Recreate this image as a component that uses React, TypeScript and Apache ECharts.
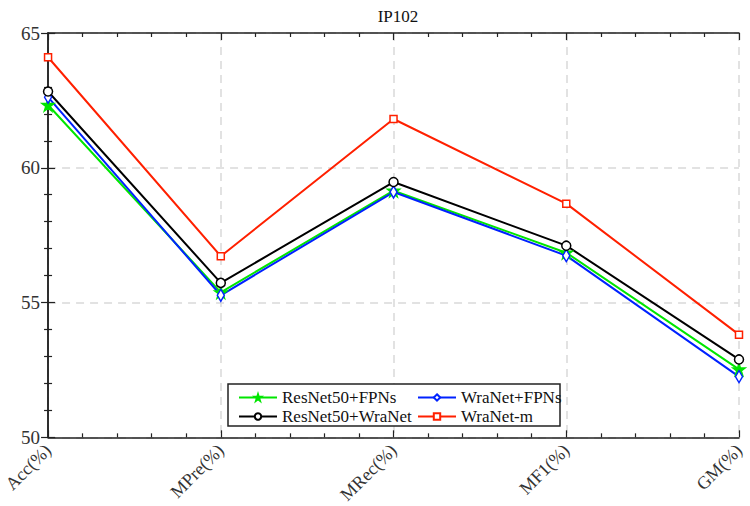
import React, { useEffect, useRef } from "react";
import * as echarts from "echarts";

const categories = ["Acc(%)", "MPre(%)", "MRec(%)", "MF1(%)", "GM(%)"];
const resnetFpns = [62.33, 55.38, 59.15, 56.85, 52.52];
const wranetFpns = [62.62, 55.27, 59.1, 56.74, 52.25];
const resnetWranet = [62.83, 55.73, 59.47, 57.11, 52.89];
const wranetM = [64.1, 56.72, 61.81, 58.67, 53.81];
const yTicks = [50, 55, 60, 65];

const FONT = "Liberation Serif";
const STAR =
  "path://M50,0 L61.8,36.2 L100,36.2 L69.1,58.8 L80.9,95.1 L50,72.7 L19.1,95.1 L30.9,58.8 L0,36.2 L38.2,36.2 Z";

const toPairs = (arr: number[]) => arr.map((v, i) => [i, v]);

export default function App() {
  const ref = useRef<HTMLDivElement>(null);
  useEffect(() => {
    if (!ref.current) return;
    const chart = echarts.init(ref.current, null, { renderer: "svg" });
    const axisCommon = {
      axisLine: { show: true, lineStyle: { color: "#222", width: 1.5 } },
      axisTick: { show: true, inside: true, length: 7, lineStyle: { color: "#222", width: 1.2 } },
      minorTick: { show: true, splitNumber: 5, length: 4, lineStyle: { color: "#222", width: 1.2 } },
    };
    const xBase = {
      type: "value",
      min: 0,
      max: categories.length - 1,
      interval: 1,
      ...axisCommon,
    };
    const yBase = {
      type: "value",
      min: yTicks[0],
      max: yTicks[yTicks.length - 1],
      interval: yTicks[1] - yTicks[0],
      ...axisCommon,
    };
    const mkSeries = (name: string, data: number[], color: string, symbol: string, size: any, fill: string) => ({
      name,
      type: "line",
      data: toPairs(data),
      symbol,
      symbolSize: size,
      showSymbol: true,
      lineStyle: { color, width: 2 },
      itemStyle: { color: fill, borderColor: color, borderWidth: 1.5 },
      emphasis: { disabled: true },
    });
    const legendBase = {
      orient: "horizontal",
      itemWidth: 38,
      itemHeight: 8,
      itemGap: 4,
      textStyle: { fontFamily: FONT, fontSize: 17, color: "#111" },
      z: 10,
    };
    chart.setOption({
      animation: false,
      backgroundColor: "#fff",
      title: {
        text: "IP102",
        left: 393,
        textAlign: "center",
        top: 3,
        textStyle: { fontFamily: FONT, fontSize: 17, fontWeight: "normal", color: "#111" },
      },
      grid: { left: 46, right: 11, top: 33, bottom: 68 },
      xAxis: [
        {
          ...xBase,
          position: "bottom",
          axisLabel: {
            rotate: 45,
            fontFamily: FONT,
            fontSize: 18,
            color: "#333",
            margin: 10,
            formatter: (v: number) => categories[v] ?? "",
          },
          splitLine: { show: true, lineStyle: { color: "#d9d9d9", width: 1.5, type: [8, 6] } },
        },
        {
          ...xBase,
          position: "top",
          axisLabel: { show: false },
          splitLine: { show: false },
        },
      ],
      yAxis: [
        {
          ...yBase,
          position: "left",
          axisLabel: { fontFamily: FONT, fontSize: 19, color: "#333", margin: 8 },
          splitLine: { show: true, lineStyle: { color: "#d9d9d9", width: 1.5, type: [8, 6] } },
        },
        {
          ...yBase,
          position: "right",
          axisLabel: { show: false },
          splitLine: { show: false },
        },
      ],
      graphic: [
        {
          type: "rect",
          shape: { x: 228, y: 384, width: 332, height: 42 },
          style: { fill: "#fff", stroke: "#222", lineWidth: 1.5 },
          z: 5,
        },
      ],
      legend: [
        { ...legendBase, left: 233, top: 384, data: ["ResNet50+FPNs"] },
        { ...legendBase, left: 412, top: 384, data: ["WraNet+FPNs"] },
        { ...legendBase, left: 233, top: 403, data: ["ResNet50+WraNet"] },
        { ...legendBase, left: 412, top: 403, data: ["WraNet-m"] },
      ],
      series: [
        mkSeries("ResNet50+FPNs", resnetFpns, "#00e600", STAR, 12, "#00e600"),
        mkSeries("WraNet+FPNs", wranetFpns, "#0022ff", "diamond", [7, 12], "#fff"),
        mkSeries("ResNet50+WraNet", resnetWranet, "#000", "circle", 9, "#fff"),
        mkSeries("WraNet-m", wranetM, "#ff2000", "rect", 7, "#fff"),
      ],
    });
    return () => chart.dispose();
  }, []);
  return <div ref={ref} style={{ width: 750, height: 506, position: "absolute", left: 0, top: 0 }} />;
}
